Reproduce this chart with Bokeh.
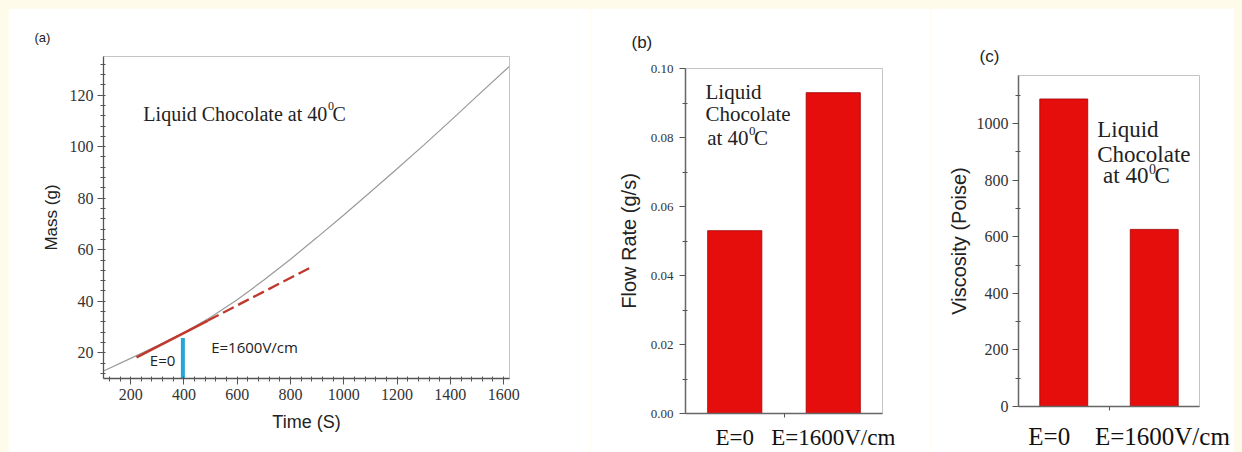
from bokeh.plotting import figure
from bokeh.models import Label, FixedTicker, SingleIntervalTicker, PrintfTickFormatter
from bokeh.embed import file_html
from bokeh.resources import INLINE

# ---------------- data ----------------
# (a) mass vs time
time_s = [100, 200, 300, 400, 500, 600, 700, 800, 900, 1000, 1100, 1200, 1300, 1400, 1500, 1620]
mass_g = [13.0, 17.8, 22.7, 27.8, 33.8, 40.6, 48.2, 56.3, 64.8, 73.5, 82.4, 91.4, 100.6, 110.0, 119.6, 131.0]
fit_solid_time = [222, 490]
fit_solid_mass = [18.2, 32.5]
fit_dash_time = [490, 881]
fit_dash_mass = [32.5, 53.4]
switch_time = [396]
switch_mass_low = [10]
switch_mass_high = [25.7]

# (b), (c) bars
categories = ["E=0", "E=1600V/cm"]
flow_rate = [0.053, 0.093]
viscosity = [1087, 626]

x_ticks_a = 200
y_ticks_a = 20
y_ticks_b = [0.0, 0.02, 0.04, 0.06, 0.08, 0.10]
y_minor_b = [0.01, 0.03, 0.05, 0.07, 0.09]
y_ticks_c = [0, 200, 400, 600, 800, 1000]
y_minor_c = [100, 300, 500, 700, 900, 1100]

SERIF = "Liberation Serif"
SANS = "Liberation Sans"
RED = "#e60d0d"


def base_fig(w, h, xr, yr, bl, br, bt, bb):
    p = figure(width=w, height=h, x_range=xr, y_range=yr, output_backend="svg",
               toolbar_location=None, min_border_left=bl, min_border_right=br,
               min_border_top=bt, min_border_bottom=bb)
    p.xgrid.visible = False
    p.ygrid.visible = False
    p.outline_line_color = "#c4c4c4"
    p.outline_line_width = 1
    p.background_fill_color = "white"
    p.border_fill_color = "white"
    for ax in (p.xaxis[0], p.yaxis[0]):
        ax.axis_line_color = "#555555"
        ax.axis_line_width = 1.3
        ax.major_tick_line_color = "#555555"
        ax.minor_tick_line_color = "#555555"
        ax.major_label_text_font = SERIF
        ax.major_label_text_color = "#333333"
        ax.axis_label_text_font = SANS
        ax.axis_label_text_font_style = "normal"
        ax.axis_label_text_color = "#222222"
    return p


def panel_title(p, text, size, offset, standoff):
    p.title.text = text
    p.title.text_font = SANS
    p.title.text_font_size = size
    p.title.text_font_style = "normal"
    p.title.text_color = "#222222"
    p.title.align = "left"
    p.title.offset = offset
    p.title.standoff = standoff


def lab(p, x, y, text, font, size, align="left", color="#222222"):
    p.add_layout(Label(x=x, y=y, text=text, text_font=font, text_font_size=size,
                       text_align=align, text_baseline="middle", text_color=color))


# ---------------- panel (a) ----------------
pa = base_fig(582, 444, (98, 1622), (10, 135), 95, 81, 48, 74)
pa.line(time_s, mass_g, line_color="#9a9a9a", line_width=1.2)
pa.line(fit_solid_time, fit_solid_mass, line_color="#c0392e", line_width=2.6)
pa.line(fit_dash_time, fit_dash_mass, line_color="#c0392e", line_width=2.4, line_dash="12 5")
pa.segment(x0=switch_time, y0=switch_mass_low, x1=switch_time, y1=switch_mass_high,
           line_color="#26a6d8", line_width=4)

pa.xaxis.ticker = SingleIntervalTicker(interval=x_ticks_a, num_minor_ticks=5)
pa.yaxis.ticker = SingleIntervalTicker(interval=y_ticks_a, num_minor_ticks=5)
pa.xaxis.axis_label = "Time (S)"
pa.yaxis.axis_label = "Mass (g)"
for ax in (pa.xaxis[0], pa.yaxis[0]):
    ax.major_label_text_font_size = "16px"
    ax.major_tick_out = 6
    ax.major_tick_in = 0
    ax.minor_tick_out = 3
    ax.minor_tick_in = 2
    ax.major_label_standoff = 4
    ax.axis_label_standoff = 6
pa.xaxis.axis_label_standoff = 9
pa.xaxis.axis_label_text_font_size = "18px"
pa.yaxis.axis_label_text_font_size = "17px"
panel_title(pa, "(a)", "13px", -69, 24)

lab(pa, 937.7, 112.8, "Liquid Chocolate at 40", SERIF, "20px", "right")
lab(pa, 940.7, 115.6, "0", SERIF, "12px", "left")
lab(pa, 957.6, 112.8, "C", SERIF, "20px", "left")
lab(pa, 271.8, 17.0, "E=0", "Open Sans", "15px", "left")
lab(pa, 502.3, 22.2, "E=1600V/cm", "Open Sans", "15px", "left")

# ---------------- panel (b) ----------------
xpos = [i + 1 for i in range(len(categories))]

pb = base_fig(340, 444, (0.5, 2.5), (0, 0.1), 95, 48, 60, 35)
pb.vbar(x=xpos, top=flow_rate, width=0.55, fill_color=RED, line_color="#a00000", line_width=0.8)
pb.yaxis.ticker = FixedTicker(ticks=y_ticks_b, minor_ticks=y_minor_b)
pb.yaxis.formatter = PrintfTickFormatter(format="%.2f")
pb.xaxis.ticker = FixedTicker(ticks=xpos, minor_ticks=[1.5])
pb.xaxis.major_label_overrides = {x: c for x, c in zip(xpos, categories)}
pb.yaxis.axis_label = "Flow Rate (g/s)"
pb.yaxis.axis_label_text_font_size = "20px"
pb.yaxis.major_label_text_font_size = "13px"
pb.yaxis.major_tick_out = 6
pb.yaxis.major_tick_in = 0
pb.yaxis.minor_tick_out = 3
pb.yaxis.minor_tick_in = 2
pb.yaxis.major_label_standoff = 6
pb.yaxis.axis_label_standoff = 8
pb.xaxis.major_tick_line_color = None
pb.xaxis.major_tick_out = 0
pb.xaxis.major_tick_in = 0
pb.xaxis.minor_tick_out = 4
pb.xaxis.minor_tick_in = 0
pb.xaxis.major_label_text_font_size = "23px"
pb.xaxis.major_label_standoff = 7
pb.xaxis.major_label_text_color = "#111111"
for ax in (pb.xaxis[0], pb.yaxis[0]):
    ax.axis_line_color = "#666666"
    ax.axis_line_width = 1.5
panel_title(pb, "(b)", "17px", -54, 33)

lab(pb, 0.703, 0.0932, "Liquid", SERIF, "21px")
lab(pb, 0.703, 0.0867, "Chocolate", SERIF, "21px")
lab(pb, 1.14, 0.0799, "at 40", SERIF, "21px", "right")
lab(pb, 1.145, 0.0819, "0", SERIF, "13px")
lab(pb, 1.195, 0.0799, "C", SERIF, "21px")

# ---------------- panel (c) ----------------
label_pos_c = [0.84, 2.09]
pc = base_fig(304, 444, (0.5, 2.5), (0, 1170), 88, 35, 67, 40)
pc.vbar(x=xpos, top=viscosity, width=0.53, fill_color=RED, line_color="#a00000", line_width=0.8)
pc.yaxis.ticker = FixedTicker(ticks=y_ticks_c, minor_ticks=y_minor_c)
pc.xaxis.ticker = FixedTicker(ticks=label_pos_c, minor_ticks=[1.5])
pc.xaxis.major_label_overrides = {x: c for x, c in zip(label_pos_c, categories)}
pc.yaxis.axis_label = "Viscosity (Poise)"
pc.yaxis.axis_label_text_font_size = "20px"
pc.yaxis.major_label_text_font_size = "16px"
pc.yaxis.major_tick_out = 6
pc.yaxis.major_tick_in = 0
pc.yaxis.minor_tick_out = 3
pc.yaxis.minor_tick_in = 2
pc.yaxis.major_label_standoff = 4
pc.yaxis.axis_label_standoff = 4
pc.xaxis.major_tick_line_color = None
pc.xaxis.major_tick_out = 0
pc.xaxis.major_tick_in = 0
pc.xaxis.minor_tick_out = 4
pc.xaxis.minor_tick_in = 0
pc.xaxis.major_label_text_font_size = "25px"
pc.xaxis.major_label_standoff = 12
pc.xaxis.major_label_text_color = "#111111"
for ax in (pc.xaxis[0], pc.yaxis[0]):
    ax.axis_line_color = "#666666"
    ax.axis_line_width = 1.5
panel_title(pc, "(c)", "17px", -39, 19)

lab(pc, 1.370, 979, "Liquid", SERIF, "23px")
lab(pc, 1.370, 892.2, "Chocolate", SERIF, "23px")
lab(pc, 1.936, 815.9, "at 40", SERIF, "23px", "right")
lab(pc, 1.942, 840.2, "0", SERIF, "14px")
lab(pc, 2.003, 815.9, "C", SERIF, "23px")

# three independent roots laid side by side (no frame alignment between panels)
p = [pa, pb, pc]

html = file_html(p, INLINE, title="Liquid chocolate under electric field")
html = html.replace(
    "</head>",
    "<style>html,body{overflow:hidden;background:#fffbea;}"
    "body{margin:8px;display:flex;flex-direction:row;align-items:flex-start;}</style></head>",
    1)
open("out.html", "w").write(html)
